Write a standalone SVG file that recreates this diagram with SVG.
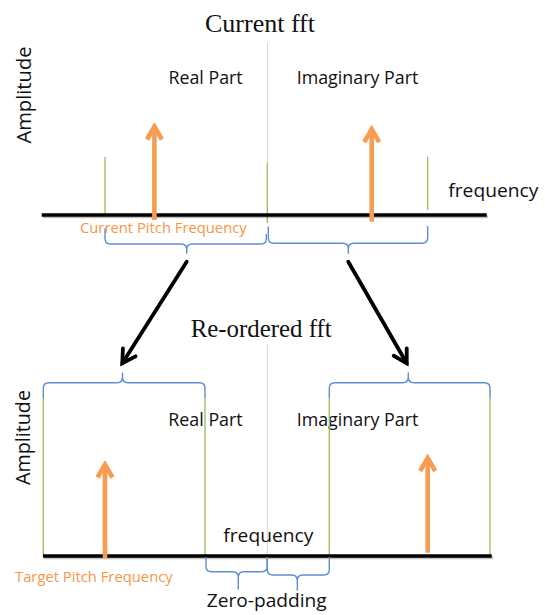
<svg xmlns="http://www.w3.org/2000/svg" width="545" height="615" viewBox="0 0 545 615">
  <style>
    .title { font-family: "Liberation Serif", "Times New Roman", serif; font-size: 26px; fill: #111; }
    .lbl { font-family: "Open Sans", "Liberation Sans", Arial, sans-serif; font-size: 18px; fill: #111; }
    .amp { font-family: "Open Sans", "Liberation Sans", Arial, sans-serif; font-size: 20px; fill: #111; }
    .freq { font-family: "Open Sans", "Liberation Sans", Arial, sans-serif; font-size: 19px; fill: #111; }
    .pitch { font-family: "Open Sans", "Liberation Sans", Arial, sans-serif; font-size: 15px; fill: #f79646; }
    .axis { stroke: #000; stroke-width: 3.5; fill: none; }
    .axis-shadow { stroke: #000; stroke-width: 3; opacity: 0.25; fill: none; }
    .mid { stroke: #d4d4d4; stroke-width: 1; fill: none; }
    .bound { stroke: #9bbb59; stroke-width: 1.3; fill: none; }
    .brace { stroke: #5b8fcf; stroke-width: 1.4; fill: none; stroke-linejoin: round; }
    .peak { stroke: #f79c52; stroke-width: 4.6; fill: none; marker-end: url(#peakHead); }
    .flow { stroke: #000; stroke-width: 3.8; fill: none; stroke-linecap: round; marker-end: url(#flowHead); }
  </style>
  <defs>
    <marker id="peakHead" markerUnits="userSpaceOnUse" viewBox="-20 -12 24 24" refX="0" refY="0" markerWidth="24" markerHeight="24" orient="auto">
      <path d="M-13,-7.5 L0,0 L-13,7.5" fill="none" stroke="#f79c52" stroke-width="4.6" stroke-linejoin="miter"/>
    </marker>
    <marker id="flowHead" markerUnits="userSpaceOnUse" viewBox="-20 -12 24 24" refX="0" refY="0" markerWidth="24" markerHeight="24" orient="auto">
      <path d="M-13,-7.5 L0,0 L-13,7.5" fill="none" stroke="#000" stroke-width="3.8" stroke-linejoin="miter" stroke-linecap="round"/>
    </marker>
  </defs>

  <!-- upper spectrum: current fft -->
  <g id="current-fft">
    <text class="title" x="205" y="31.7" textLength="110" lengthAdjust="spacingAndGlyphs">Current fft</text>
    <line class="mid" x1="267.5" y1="42.7" x2="267.5" y2="215"/>
    <text class="amp" x="30.7" y="95" text-anchor="middle" transform="rotate(-90 30.7 95)" textLength="97" lengthAdjust="spacingAndGlyphs">Amplitude</text>
    <text class="lbl" x="168.5" y="83.5" textLength="74.2" lengthAdjust="spacingAndGlyphs">Real Part</text>
    <text class="lbl" x="296.7" y="83.5" textLength="121.6" lengthAdjust="spacingAndGlyphs">Imaginary Part</text>
    <text class="freq" x="448.3" y="196.7" textLength="90" lengthAdjust="spacingAndGlyphs">frequency</text>
    <line class="bound" x1="105" y1="156.7" x2="105" y2="215"/>
    <line class="bound" x1="267.3" y1="163.3" x2="267.3" y2="223.3"/>
    <line class="bound" x1="427.7" y1="156.7" x2="427.7" y2="210"/>
    <line class="axis-shadow" x1="43" y1="216.8" x2="488" y2="216.8"/>
    <line class="axis" x1="41.7" y1="215" x2="486.7" y2="215"/>
    <line class="peak" x1="154.4" y1="220" x2="154.4" y2="126.5"/>
    <line class="peak" x1="371.7" y1="221.7" x2="371.7" y2="129.2"/>
    <text class="pitch" x="80" y="232.7" textLength="166.7" lengthAdjust="spacingAndGlyphs">Current Pitch Frequency</text>
  </g>

  <!-- braces grouping the real and imaginary halves -->
  <g id="current-real-brace">
    <path class="brace" d="M105,228.5 L105,238.5 Q105,244 110.5,244 L181.2,244 Q186.7,244 186.7,249.5 L186.7,253.3 L186.7,249.5 Q186.7,244 192.2,244 L260.8,244 Q266.3,244 266.3,238.5 L266.3,234"/>
  </g>
  <g id="current-imag-brace">
    <path class="brace" d="M268.3,226.5 L268.3,237.8 Q268.3,243.3 273.8,243.3 L342.8,243.3 Q348.3,243.3 348.3,248.8 L348.3,253.3 L348.3,248.8 Q348.3,243.3 353.8,243.3 L422.2,243.3 Q427.7,243.3 427.7,237.8 L427.7,226"/>
  </g>

  <!-- lower spectrum: re-ordered fft -->
  <g id="reordered-fft">
    <text class="title" x="190.7" y="337.3" textLength="141" lengthAdjust="spacingAndGlyphs">Re-ordered fft</text>
    <line class="mid" x1="267.3" y1="344.3" x2="267.3" y2="556"/>
    <text class="amp" x="30" y="437.5" text-anchor="middle" transform="rotate(-90 30 437.5)" textLength="95" lengthAdjust="spacingAndGlyphs">Amplitude</text>
    <text class="lbl" x="168.3" y="425.7" textLength="74.4" lengthAdjust="spacingAndGlyphs">Real Part</text>
    <text class="lbl" x="296.7" y="425.7" textLength="121.6" lengthAdjust="spacingAndGlyphs">Imaginary Part</text>
    <text class="freq" x="223.3" y="542.3" textLength="90" lengthAdjust="spacingAndGlyphs">frequency</text>
    <line class="bound" x1="43.3" y1="398" x2="43.3" y2="556"/>
    <line class="bound" x1="205" y1="398" x2="205" y2="556"/>
    <line class="bound" x1="329.3" y1="398" x2="329.3" y2="556"/>
    <line class="bound" x1="490" y1="398" x2="490" y2="556"/>
    <line class="axis-shadow" x1="44" y1="557.8" x2="493" y2="557.8"/>
    <line class="axis" x1="43" y1="556" x2="491.7" y2="556"/>
    <line class="peak" x1="105" y1="558.3" x2="105" y2="464.5"/>
    <line class="peak" x1="427.7" y1="552.7" x2="427.7" y2="458"/>
    <text class="pitch" x="15" y="581.7" textLength="157.7" lengthAdjust="spacingAndGlyphs">Target Pitch Frequency</text>
    <text class="freq" x="206.7" y="606.7" textLength="120" lengthAdjust="spacingAndGlyphs">Zero-padding</text>
  </g>

  <g id="reordered-real-brace">
    <path class="brace" d="M43.3,398 L43.3,388.2 Q43.3,382.7 48.8,382.7 L117,382.7 Q122.5,382.7 122.5,377.2 L122.5,373 L122.5,377.2 Q122.5,382.7 128,382.7 L199.5,382.7 Q205,382.7 205,388.2 L205,398"/>
  </g>
  <g id="reordered-imag-brace">
    <path class="brace" d="M329.3,398 L329.3,388.2 Q329.3,382.7 334.8,382.7 L402.8,382.7 Q408.3,382.7 408.3,377.2 L408.3,373 L408.3,377.2 Q408.3,382.7 413.8,382.7 L484.5,382.7 Q490,382.7 490,388.2 L490,398"/>
  </g>
  <g id="zero-padding-braces">
    <path class="brace" d="M206,557 L206,566.2 Q206,571.7 211.5,571.7 L232.8,571.7 Q238.3,571.7 238.3,577.2 L238.3,589 L238.3,577.2 Q238.3,571.7 243.8,571.7 L261.8,571.7 Q267.3,571.7 267.3,566.2 L267.3,557"/>
    <path class="brace" d="M267.3,557 L267.3,569.5 Q267.3,575 272.8,575 L291.8,575 Q297.3,575 297.3,580.5 L297.3,590 L297.3,580.5 Q297.3,575 302.8,575 L323.8,575 Q329.3,575 329.3,569.5 L329.3,557"/>
  </g>

  <!-- connectors from the upper halves to their new places -->
  <g id="connectors">
    <line class="flow" x1="186.7" y1="261.7" x2="122.3" y2="363.3"/>
    <line class="flow" x1="348.3" y1="261.7" x2="406.7" y2="363.3"/>
  </g>
</svg>
